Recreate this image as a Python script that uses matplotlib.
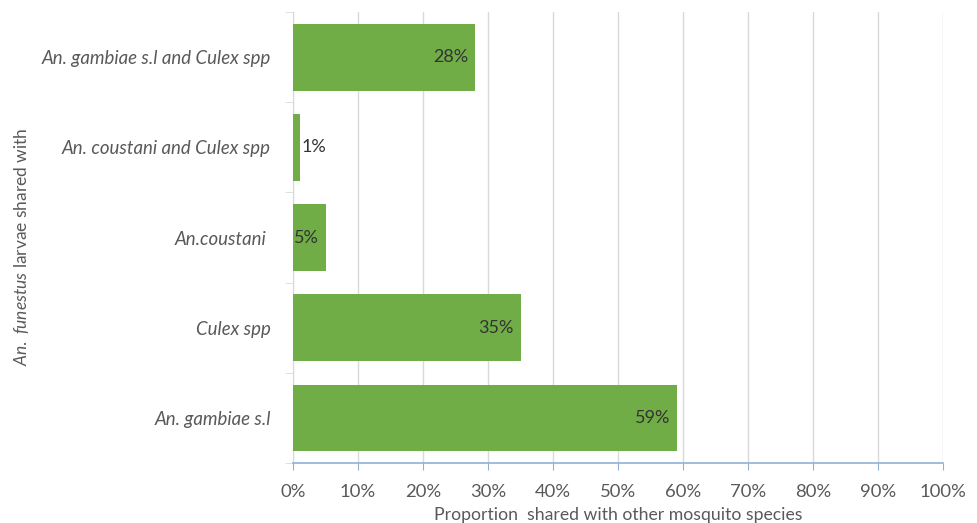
import matplotlib
matplotlib.use("Agg")
import matplotlib.pyplot as plt
from matplotlib.ticker import FuncFormatter, MultipleLocator

# categories listed bottom to top
categories = [
    "An. gambiae s.l",
    "Culex spp",
    "An.coustani ",
    "An. coustani and Culex spp",
    "An. gambiae s.l and Culex spp",
]
shares = [59, 35, 5, 1, 28]
value_labels = ["59%", "35%", "5%", "1%", "28%"]

plt.rcParams["font.family"] = ["Lato", "DejaVu Sans"]
plt.rcParams["mathtext.fontset"] = "custom"
plt.rcParams["mathtext.it"] = "Lato:italic"
plt.rcParams["mathtext.rm"] = "Lato"

BAR_GREEN = "#70ad47"
TEXT_GREY = "#595959"

fig = plt.figure(figsize=(9.77, 5.23), dpi=100)
ax = fig.add_axes([0.2999, 0.1147, 0.6653, 0.8623])

ypos = list(range(len(categories)))
bars = ax.barh(ypos, shares, height=0.74, color=BAR_GREEN, zorder=3)

for bar, val, lab in zip(bars, shares, value_labels):
    yc = bar.get_y() + bar.get_height() / 2
    if val < 3:
        ax.text(val + 0.3, yc, lab, ha="left", va="center",
                fontsize=13, color="#333333", zorder=4)
    else:
        ax.text(val - 1.0, yc, lab, ha="right", va="center",
                fontsize=13, color="#333333", zorder=4)

ax.set_xlim(0, 100)
ax.set_ylim(-0.5, len(categories) - 0.5)
ax.xaxis.set_major_locator(MultipleLocator(10))
ax.xaxis.set_major_formatter(FuncFormatter(lambda v, _: f"{v:.0f}%"))
ax.grid(axis="x", color="#d9d9d9", linewidth=1.0, zorder=0)

# category labels between the separator ticks
ax.set_yticks(ypos)
ax.set_yticklabels(categories, style="italic", fontsize=13.4, color=TEXT_GREY)
ax.set_yticks([i - 0.5 for i in range(len(categories) + 1)], minor=True)
ax.tick_params(axis="y", which="major", length=0, pad=16)
ax.tick_params(axis="y", which="minor", length=6, color="#d9d9d9")
ax.tick_params(axis="x", length=5, color="#8fb0d6", labelsize=13.3,
               labelcolor=TEXT_GREY, pad=10)

for side in ("top", "right"):
    ax.spines[side].set_visible(False)
ax.spines["left"].set_color("#d9d9d9")
ax.spines["bottom"].set_color("#8fb0d6")
ax.spines["bottom"].set_linewidth(1.2)

ax.set_xlabel("Proportion  shared with other mosquito species",
              fontsize=12.7, color=TEXT_GREY, labelpad=5)
ax.set_ylabel(r"$\it{An.\ funestus}$ larvae shared with",
              fontsize=12.5, color=TEXT_GREY)
ax.yaxis.set_label_coords(-0.403, 0.48)

fig.savefig("out.png", dpi=100)
